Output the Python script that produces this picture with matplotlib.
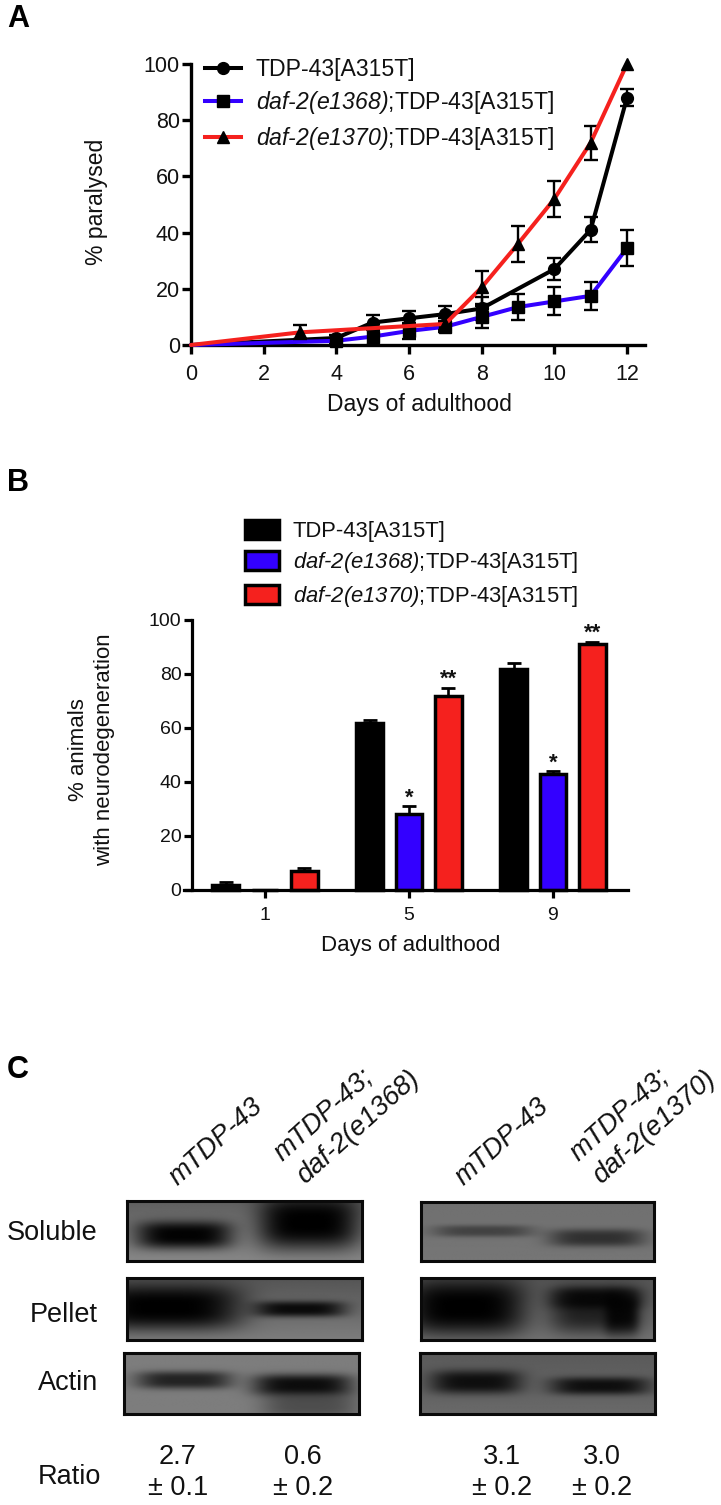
import numpy as np
import matplotlib
matplotlib.use("Agg")
import matplotlib.pyplot as plt
from matplotlib.lines import Line2D

plt.rcParams.update({
    "font.family": ["Liberation Sans", "DejaVu Sans"],
    "mathtext.fontset": "custom",
    "mathtext.rm": "Liberation Sans:italic",
    "mathtext.it": "Liberation Sans:italic",
    "mathtext.bf": "Liberation Sans:italic",
})

W, H = 721, 1505
INK = "#111111"
LABEL_WT = "TDP-43[A315T]"
LABEL_1368 = "$\\mathrm{daf\u20102(e1368)}$;TDP-43[A315T]"
LABEL_1370 = "$\\mathrm{daf\u20102(e1370)}$;TDP-43[A315T]"
BLUE = "#3300FF"
RED = "#F5211E"

# Panel A data
wt_days = [0, 4, 5, 6, 7, 8, 10, 11, 12]
wt_vals = [0, 2.5, 8, 9.5, 11, 13, 27, 41, 88]
wt_errs = [0, 1, 2.5, 2.5, 3, 4, 4, 4.5, 3]
e1368_days = [0, 4, 5, 6, 7, 8, 9, 10, 11, 12]
e1368_vals = [0, 1.5, 3, 5, 6.5, 10, 13.5, 15.5, 17.5, 34.5]
e1368_errs = [0, 1, 3, 3, 2, 4, 4.5, 5, 5, 6.5]
e1370_days = [0, 3, 7, 8, 9, 10, 11, 12]
e1370_vals = [0, 4.5, 7.5, 20.5, 36, 52, 72, 100]
e1370_errs = [0, 2.5, 2, 6, 6.5, 6.5, 6, 0]

# Panel B data
b_days = ["1", "5", "9"]
b_wt = [2, 62, 82]
b_wt_err = [1, 1, 2]
b_1368 = [0, 28, 43]
b_1368_err = [0, 3, 1]
b_1370 = [7, 72, 91]
b_1370_err = [1, 3, 1]
b_1368_stars = ["", "*", "*"]
b_1370_stars = ["", "**", "**"]

# Panel C data
c_rows = ["Soluble", "Pellet", "Actin"]
c_ratio = ["2.7", "0.6", "3.1", "3.0"]
c_ratio_err = ["\u00b1 0.1", "\u00b1 0.2", "\u00b1 0.2", "\u00b1 0.2"]

fig = plt.figure(figsize=(W / 100, H / 100), dpi=100, facecolor="white")


def px_axes(left, right, top, bottom, **kw):
    return fig.add_axes([left / W, 1 - bottom / H, (right - left) / W, (bottom - top) / H], **kw)


def px_text(x, y, s, **kw):
    kw.setdefault("color", INK)
    return fig.text(x / W, 1 - y / H, s, **kw)


for s, y in zip("ABC", [19, 483, 1070]):
    px_text(7, y, s, fontsize=22, fontweight="bold", color="black", ha="left", va="center")

# ---------- Panel A
ax = px_axes(191, 645, 64, 345)
ax.set_xlim(0, 12 * 454 / 436)
ax.set_ylim(0, 100)
series = [
    (wt_days, wt_vals, wt_errs, "black", "o", 8.5),
    (e1368_days, e1368_vals, e1368_errs, BLUE, "s", 8),
    (e1370_days, e1370_vals, e1370_errs, RED, "^", 8),
]
handles = []
for days, vals, errs, col, mk, ms in series:
    d, v, e = np.array(days), np.array(vals), np.array(errs)
    has_err = e > 0
    ax.errorbar(d[has_err], v[has_err], yerr=e[has_err], fmt="none", ecolor="black", elinewidth=1.7,
                capsize=4.8, capthick=1.7, clip_on=False, zorder=3)
    ax.plot(d, v, color=col, lw=2.9, clip_on=False, zorder=3, solid_capstyle="round")
    ax.plot(d[1:], v[1:], ls="none", marker=mk, ms=ms, mfc="black", mec="black", clip_on=False, zorder=3)
    handles.append(Line2D([], [], color=col, lw=2.9, marker=mk, ms=ms, mfc="black", mec="black"))
for side in ("top", "right"):
    ax.spines[side].set_visible(False)
for side in ("left", "bottom"):
    ax.spines[side].set_linewidth(2.4)
    ax.spines[side].set_color("black")
ax.set_xticks(range(0, 13, 2))
ax.set_yticks(range(0, 101, 20))
ax.tick_params(width=2.4, length=6.5, labelsize=15.5, colors="black", labelcolor=INK)
ax.tick_params(axis="y", pad=1.5)
ax.tick_params(axis="x", pad=7)
px_text(96, 202, "% paralysed", fontsize=16.5, rotation=90, ha="center", va="center")
px_text(419, 404, "Days of adulthood", fontsize=16.5, ha="center", va="center")
fig.legend(handles, [LABEL_WT, LABEL_1368, LABEL_1370], loc="upper left",
           bbox_to_anchor=(205 / W, 1 - 58 / H), frameon=False, fontsize=16.6, labelcolor=INK,
           borderpad=0, borderaxespad=0, handlelength=1.55, handletextpad=0.65, labelspacing=0.36, numpoints=1)

# ---------- Panel B
ax = px_axes(192, 628, 620, 890)
ax.set_xlim((192 - 265) / 144, (628 - 265) / 144)
ax.set_ylim(0, 100)
centers = np.arange(len(b_days))
off, bw = 0.274, 0.182
groups = [
    (-off, b_wt, b_wt_err, "black", LABEL_WT, None),
    (0, b_1368, b_1368_err, BLUE, LABEL_1368, b_1368_stars),
    (off, b_1370, b_1370_err, RED, LABEL_1370, b_1370_stars),
]
bars = []
for dx, vals, errs, col, lab, stars in groups:
    bc = ax.bar(centers + dx, vals, bw, color=col, edgecolor="black", linewidth=2.5, label=lab,
                yerr=[np.zeros(3), errs], ecolor="black", capsize=5.2,
                error_kw={"elinewidth": 1.9, "capthick": 2.0, "clip_on": False}, clip_on=False, zorder=2)
    bars.append(bc)
    if stars:
        for c, v, e, st in zip(centers, vals, errs, stars):
            if st:
                ax.annotate(st, (c + dx, v + e), xytext=(0, 6), textcoords="offset points", ha="center",
                            va="center", fontsize=16, fontweight="bold", color=INK)
for side in ("top", "right"):
    ax.spines[side].set_visible(False)
for side in ("left", "bottom"):
    ax.spines[side].set_linewidth(2.3)
    ax.spines[side].set_color("black")
ax.spines["bottom"].set_bounds((184 - 265) / 144, (628 - 265) / 144)
ax.spines["bottom"].set_zorder(4)
ax.set_xticks(centers, b_days)
ax.set_yticks(range(0, 101, 20))
ax.tick_params(width=2.3, length=6, labelsize=14, colors="black", labelcolor=INK)
ax.tick_params(axis="y", pad=1.5)
ax.tick_params(axis="x", pad=6)
px_text(78, 750, "% animals", fontsize=16, rotation=90, ha="center", va="center")
px_text(105, 750, "with neurodegeneration", fontsize=16, rotation=90, ha="center", va="center")
px_text(411, 946, "Days of adulthood", fontsize=16, ha="center", va="center")
leg_b = fig.legend([b[0] for b in bars], [LABEL_WT, LABEL_1368, LABEL_1370], loc="upper left",
                   bbox_to_anchor=(245 / W, 1 - 520 / H), frameon=False, fontsize=15.8, labelcolor=INK,
                   borderpad=0, borderaxespad=0, handlelength=1.55, handleheight=0.95,
                   handletextpad=0.62, labelspacing=0.38)

# ---------- Panel C: blots. Bands are (centre x, centre y, half width, half height, darkness)
blots = [
    ((127, 362, 1201, 1261), (95, 135), [(184, 1235, 48, 14, 0.98), (309, 1222, 50, 27, 1.0)]),
    ((421, 654, 1202, 1261), (112, 118), [(483, 1231, 50, 6, 0.42), (597, 1238, 48, 9, 0.58)]),
    ((127, 362, 1278, 1340), (85, 125), [(165, 1307, 76, 23, 1.0), (300, 1309, 46, 8, 0.90)]),
    ((421, 654, 1278, 1340), (85, 115), [(465, 1307, 60, 28, 1.0), (596, 1310, 46, 24, 0.68),
                                         (596, 1298, 44, 11, 0.80), (622, 1314, 17, 20, 0.85)]),
    ((124, 359, 1353, 1414), (125, 125), [(184, 1380, 48, 9, 0.72), (303, 1385, 50, 11, 0.90),
                                          (310, 1405, 48, 13, 0.38)]),
    ((420, 655, 1353, 1414), (90, 105), [(476, 1382, 46, 12, 0.85), (600, 1386, 50, 9, 0.85)]),
]
for (l, r, t, b), (bg_top, bg_bot), bands in blots:
    axb = px_axes(l, r, t, b)
    xx, yy = np.meshgrid(np.arange(l, r + 1), np.arange(t, b + 1))
    img = bg_top + (bg_bot - bg_top) * (yy - t) / (b - t)
    for cx, cy, hw, hh, d in bands:
        shape = np.exp(-np.abs((xx - cx) / hw) ** 4 - np.abs((yy - cy) / hh) ** 3)
        img = img * (1 - d * shape)
    axb.imshow(img, cmap="gray", vmin=0, vmax=255, extent=(l, r, b, t), aspect="auto", interpolation="bilinear")
    axb.set_xticks([])
    axb.set_yticks([])
    for sp in axb.spines.values():
        sp.set_linewidth(2.2)
        sp.set_color("#0a0a0a")

for row, y in zip(c_rows, [1233, 1315, 1383]):
    px_text(98, y, row, fontsize=19.5, ha="right", va="center")
px_text(101, 1477, "Ratio", fontsize=19.5, ha="right", va="center")
for x, a, e in zip([178, 303, 502, 602], c_ratio, c_ratio_err):
    px_text(x, 1457, a, fontsize=19.5, ha="center", va="center")
    px_text(x, 1488, e, fontsize=19.5, ha="center", va="center")

rot = dict(fontsize=19.5, fontstyle="italic", rotation=42, rotation_mode="anchor", ha="left", va="baseline")
for x, y, s in [(178, 1186, "mTDP-43"), (282, 1161, "mTDP-43;"), (305, 1185, "daf-2(e1368)"),
                (464, 1186, "mTDP-43"), (578, 1161, "mTDP-43;"), (601, 1185, "daf-2(e1370)")]:
    px_text(x, y, s, **rot)

fig.savefig("out.png", dpi=100)
